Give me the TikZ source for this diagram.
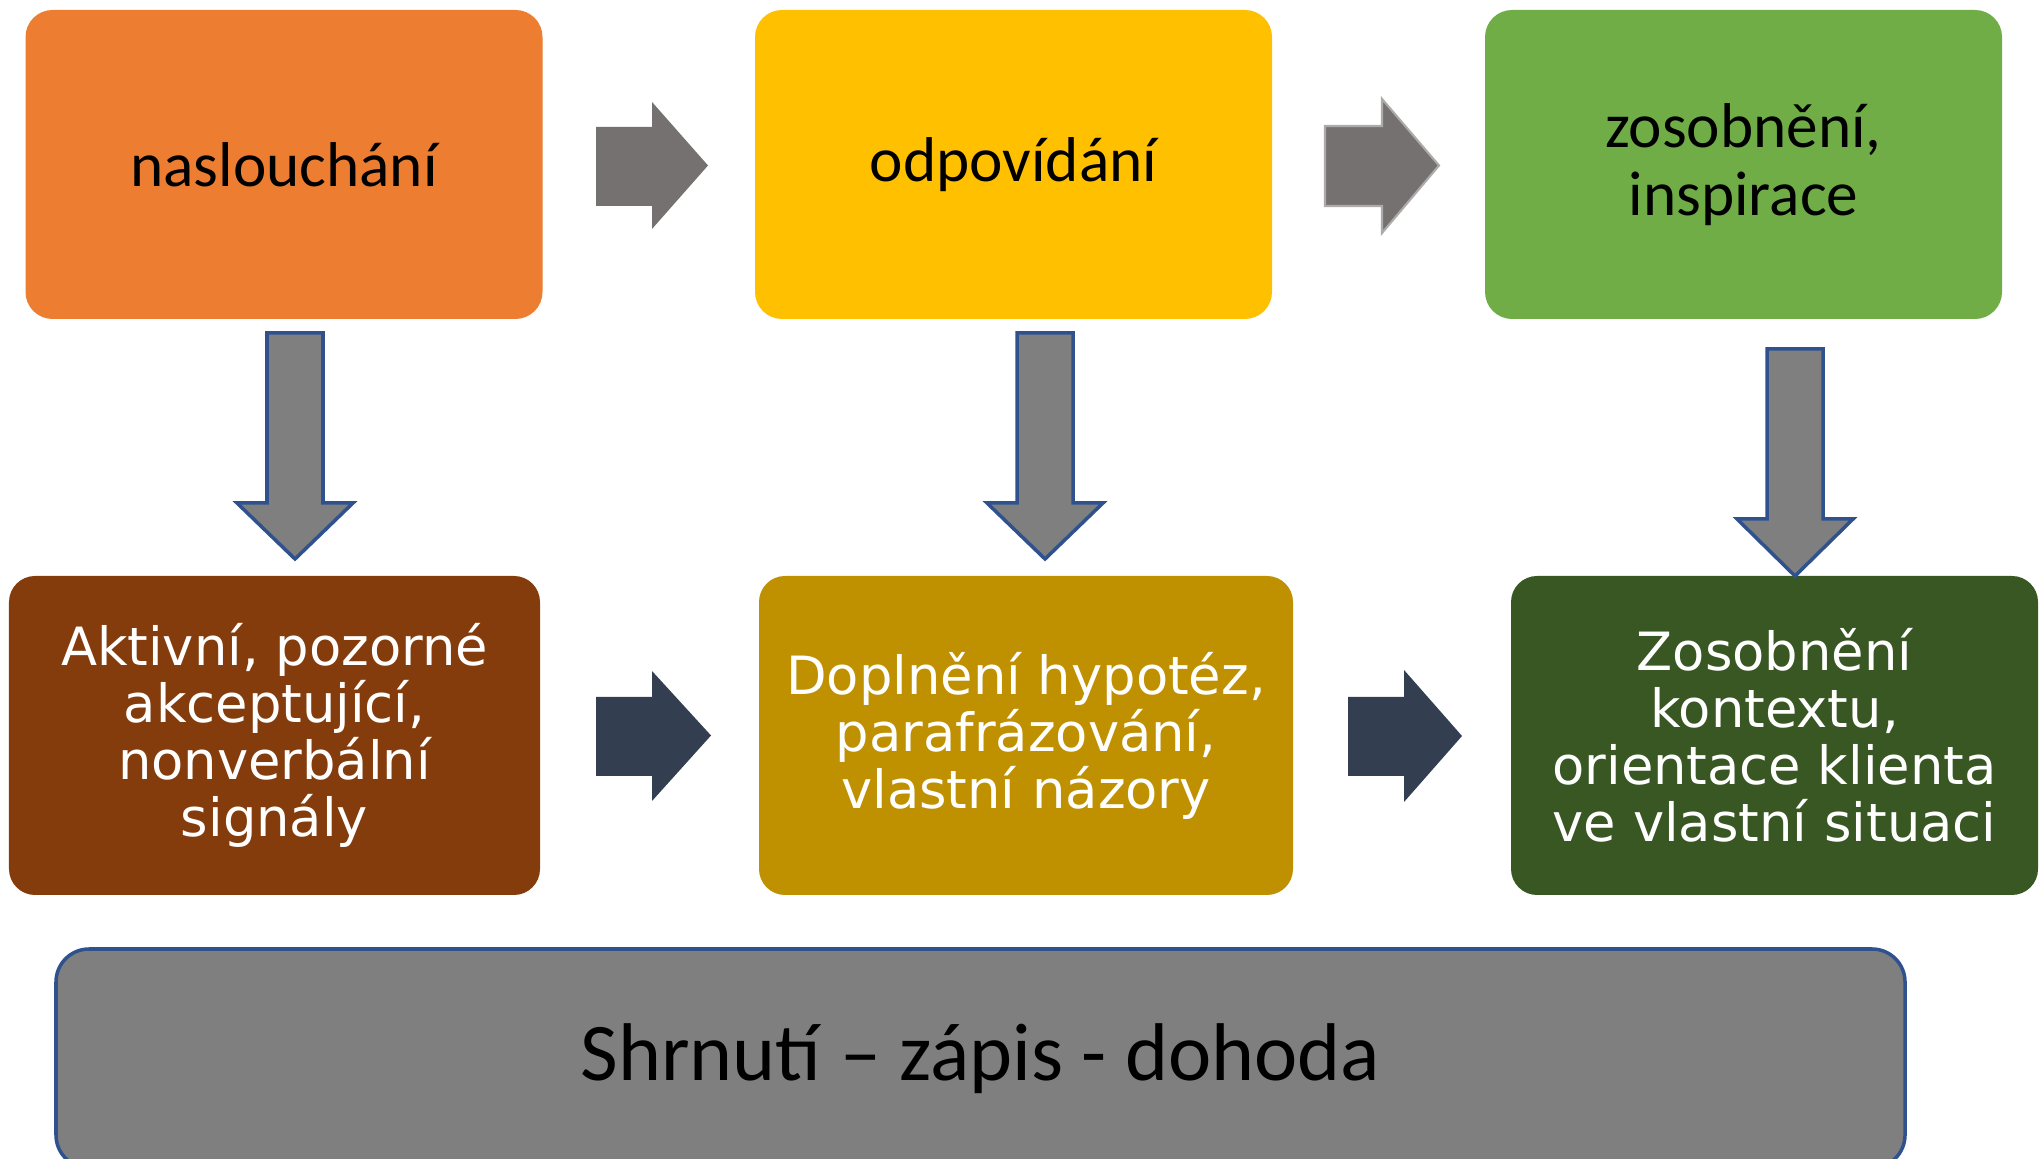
\documentclass[tikz,border=0pt]{standalone}
\usepackage{fontspec}
\setmainfont{Carlito}
\newfontfamily\lowfont{DejaVu Sans}
\definecolor{naslcolor}{HTML}{ED7D31}
\definecolor{odpocolor}{HTML}{FFC000}
\definecolor{zosocolor}{HTML}{70AD47}
\definecolor{aktcolor}{HTML}{843C0C}
\definecolor{dopcolor}{HTML}{BF9000}
\definecolor{kontcolor}{HTML}{385723}
\definecolor{arrowgray}{HTML}{767171}
\definecolor{arrowdark}{HTML}{333F50}
\definecolor{shrncolor}{HTML}{7F7F7F}
\definecolor{edgeblue}{HTML}{2F528F}
\tikzset{
  topbox/.style={rectangle,rounded corners=0.27cm,minimum width=5.17cm,
    minimum height=3.09cm,inner sep=2pt,align=center,text=black,
    font=\fontsize{18}{19.5}\selectfont},
  lowbox/.style={rectangle,rounded corners=0.26cm,minimum width=5.31cm,
    minimum height=3.19cm,inner sep=2pt,align=center,text=white,
    font=\lowfont\fontsize{15}{16.2}\selectfont},
  toparrow/.style={fill=arrowgray},
  lowarrow/.style={fill=arrowdark},
  downarrow/.style={fill=shrncolor,draw=edgeblue,line width=1pt},
}
\begin{document}
\begin{tikzpicture}
    \useasboundingbox (0,0) rectangle (20.42,11.58);
    % horni rada
    \node[topbox,fill=naslcolor] (nasl) at (2.84,9.935) {naslouchání};
    \node[topbox,fill=odpocolor] (odpo) at (10.135,9.935) {odpovídání};
    \node[topbox,fill=zosocolor] (zoso) at (17.435,9.935) {zosobnění,\\inspirace};
    % dolni rada
    \node[lowbox,fill=aktcolor] (akt) at (2.745,4.225)
    {Aktivní, pozorné\\akceptující,\\nonverbální\\signály};
    \node[lowbox,fill=dopcolor,minimum width=5.34cm] (dop) at (10.26,4.225)
    {Doplnění hypotéz,\\parafrázování,\\vlastní názory};
    \node[lowbox,fill=kontcolor,minimum width=5.27cm] (kont) at (17.745,4.225)
    {Zosobnění\\kontextu,\\orientace klienta\\ve vlastní situaci};
    % shrnuti
    \node[rectangle,rounded corners=0.33cm,fill=shrncolor,draw=edgeblue,
    line width=1pt,minimum width=18.49cm,minimum height=2.19cm,
    font=\fontsize{23.3}{26}\selectfont] (shrn) at (9.805,0.995)
    {Shrnutí – zápis - dohoda};
    % sipky doprava
    \fill[toparrow] (5.96,10.31) -- (6.52,10.31) -- (6.52,10.56) -- (7.08,9.925)
    -- (6.52,9.29) -- (6.52,9.52) -- (5.96,9.52) -- cycle;
    \filldraw[toparrow,draw=arrowgray!60,line width=0.6pt] (13.25,10.32)
    -- (13.82,10.32) -- (13.82,10.59) -- (14.39,9.925) -- (13.82,9.25)
    -- (13.82,9.52) -- (13.25,9.52) -- cycle;
    \fill[lowarrow] (5.96,4.61) -- (6.52,4.61) -- (6.52,4.87) -- (7.11,4.225)
    -- (6.52,3.57) -- (6.52,3.82) -- (5.96,3.82) -- cycle;
    \fill[lowarrow] (13.48,4.61) -- (14.04,4.61) -- (14.04,4.88) -- (14.62,4.22)
    -- (14.04,3.56) -- (14.04,3.82) -- (13.48,3.82) -- cycle;
    % sipky dolu
    \draw[downarrow] (2.67,8.25) -- (3.23,8.25) -- (3.23,6.55) -- (3.53,6.55)
    -- (2.95,5.99) -- (2.37,6.55) -- (2.67,6.55) -- cycle;
    \draw[downarrow] (10.17,8.25) -- (10.73,8.25) -- (10.73,6.55) -- (11.03,6.55)
    -- (10.45,5.99) -- (9.87,6.55) -- (10.17,6.55) -- cycle;
    \draw[downarrow] (17.67,8.09) -- (18.23,8.09) -- (18.23,6.39) -- (18.53,6.39)
    -- (17.95,5.82) -- (17.37,6.39) -- (17.67,6.39) -- cycle;
  \end{tikzpicture}
\end{document}
